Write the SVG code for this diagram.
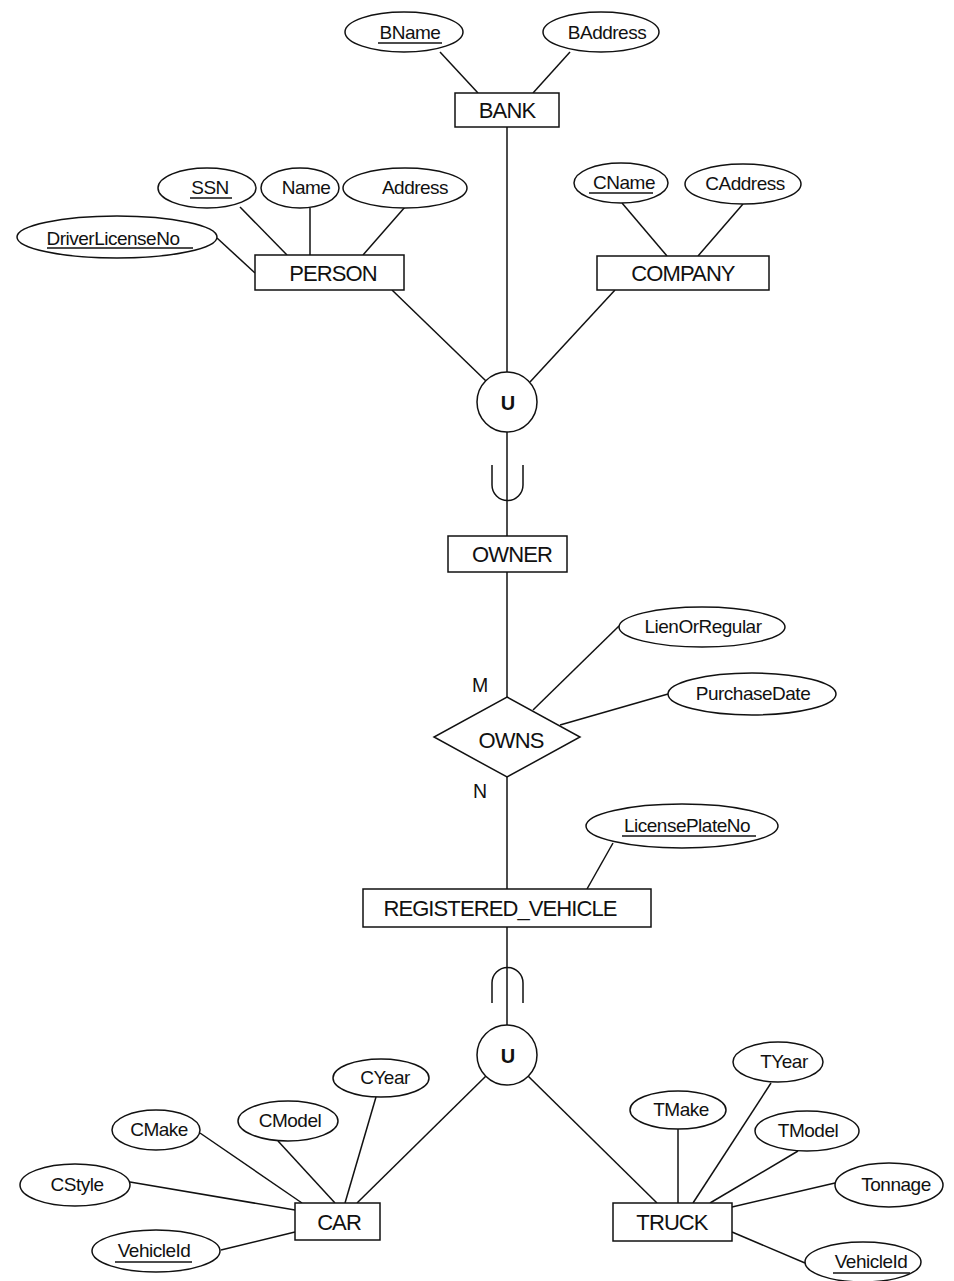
<svg xmlns="http://www.w3.org/2000/svg" width="954" height="1281" viewBox="0 0 954 1281">
  <style>
    .bg { fill: #ffffff; }
    .shape { fill: #ffffff; stroke: #111111; stroke-width: 1.5; }
    .line { fill: none; stroke: #111111; stroke-width: 1.5; }
    .ul { stroke: #111111; stroke-width: 1.3; }
    text { font-family: "Liberation Sans", Arial, Helvetica, sans-serif; fill: #111111; text-anchor: middle; }
    .attr { font-size: 19px; letter-spacing: -0.5px; }
    .ent { font-size: 22px; letter-spacing: -0.9px; }
    .card { font-size: 19.5px; }
    .union { font-size: 20px; font-weight: bold; }
  </style>
  <rect class="bg" x="0" y="0" width="954" height="1281"/>

  <!-- connectors -->
  <g id="connectors">
    <!-- BANK attributes -->
    <line class="line" x1="440" y1="52" x2="478" y2="93"/>
    <line class="line" x1="570" y1="52" x2="533" y2="93"/>
    <!-- PERSON attributes -->
    <line class="line" x1="240" y1="207" x2="287" y2="255"/>
    <line class="line" x1="310" y1="208" x2="310" y2="255"/>
    <line class="line" x1="405" y1="207" x2="363" y2="255"/>
    <line class="line" x1="217" y1="238" x2="255" y2="273"/>
    <!-- COMPANY attributes -->
    <line class="line" x1="622" y1="203" x2="667" y2="256"/>
    <line class="line" x1="743" y1="204" x2="698" y2="256"/>
    <!-- union members -->
    <line class="line" x1="507" y1="127" x2="507" y2="372"/>
    <line class="line" x1="392" y1="290" x2="486" y2="381"/>
    <line class="line" x1="615" y1="290" x2="530" y2="382"/>
    <!-- union to OWNER with subset mark -->
    <line class="line" x1="507" y1="432" x2="507" y2="536"/>
    <path class="line" d="M492,465 V485 A15.5,15.5 0 0 0 523,485 V465"/>
    <!-- OWNER - OWNS - REGISTERED_VEHICLE -->
    <line class="line" x1="507" y1="572" x2="507" y2="697"/>
    <line class="line" x1="507" y1="777" x2="507" y2="889"/>
    <line class="line" x1="533" y1="710" x2="619" y2="626"/>
    <line class="line" x1="560" y1="725" x2="668" y2="694"/>
    <line class="line" x1="613" y1="843" x2="587" y2="889"/>
    <!-- REGISTERED_VEHICLE to union with subset mark -->
    <line class="line" x1="507" y1="927" x2="507" y2="1025"/>
    <path class="line" d="M492,1003 V983 A15.5,15.5 0 0 1 523,983 V1003"/>
    <line class="line" x1="486" y1="1076" x2="357" y2="1203"/>
    <line class="line" x1="528" y1="1076" x2="657" y2="1203"/>
    <!-- CAR attributes -->
    <line class="line" x1="200" y1="1133" x2="302" y2="1203"/>
    <line class="line" x1="278" y1="1141" x2="335" y2="1203"/>
    <line class="line" x1="376" y1="1097" x2="345" y2="1203"/>
    <line class="line" x1="130" y1="1182" x2="295" y2="1210"/>
    <line class="line" x1="221" y1="1250" x2="295" y2="1232"/>
    <!-- TRUCK attributes -->
    <line class="line" x1="678" y1="1129" x2="678" y2="1203"/>
    <line class="line" x1="771" y1="1083" x2="693" y2="1203"/>
    <line class="line" x1="798" y1="1151" x2="710" y2="1203"/>
    <line class="line" x1="835" y1="1183" x2="732" y2="1207"/>
    <line class="line" x1="805" y1="1263" x2="732" y2="1232"/>
  </g>

  <!-- BANK -->
  <g id="bank">
    <rect class="shape" x="455" y="93" width="104" height="34"/>
    <text class="ent" x="507" y="118">BANK</text>
  </g>
  <g id="bname">
    <ellipse class="shape" cx="404" cy="32" rx="59" ry="20"/>
    <text class="attr" x="410" y="39">BName</text>
    <line class="ul" x1="378" y1="43" x2="442" y2="43"/>
  </g>
  <g id="baddress">
    <ellipse class="shape" cx="601" cy="32" rx="58" ry="20"/>
    <text class="attr" x="607" y="39">BAddress</text>
  </g>

  <!-- PERSON -->
  <g id="person">
    <rect class="shape" x="255" y="255" width="149" height="35"/>
    <text class="ent" x="333" y="281">PERSON</text>
  </g>
  <g id="ssn">
    <ellipse class="shape" cx="207" cy="188" rx="49" ry="20"/>
    <text class="attr" x="210" y="194">SSN</text>
    <line class="ul" x1="190" y1="198" x2="232" y2="198"/>
  </g>
  <g id="name">
    <ellipse class="shape" cx="300" cy="188" rx="39" ry="20"/>
    <text class="attr" x="306" y="194">Name</text>
  </g>
  <g id="address">
    <ellipse class="shape" cx="405" cy="188" rx="62" ry="20"/>
    <text class="attr" x="415" y="194">Address</text>
  </g>
  <g id="driverlicenseno">
    <ellipse class="shape" cx="117" cy="237" rx="100" ry="21"/>
    <text class="attr" x="113" y="245">DriverLicenseNo</text>
    <line class="ul" x1="47" y1="248" x2="193" y2="248"/>
  </g>

  <!-- COMPANY -->
  <g id="company">
    <rect class="shape" x="597" y="256" width="172" height="34"/>
    <text class="ent" x="683" y="281">COMPANY</text>
  </g>
  <g id="cname">
    <ellipse class="shape" cx="621" cy="183" rx="47" ry="20"/>
    <text class="attr" x="624" y="189">CName</text>
    <line class="ul" x1="589" y1="193" x2="653" y2="193"/>
  </g>
  <g id="caddress">
    <ellipse class="shape" cx="743" cy="184" rx="58" ry="20"/>
    <text class="attr" x="745" y="190">CAddress</text>
  </g>

  <!-- union of owners -->
  <g id="owner-union">
    <circle class="shape" cx="507" cy="402" r="30"/>
    <text class="union" x="508" y="410">U</text>
  </g>

  <!-- OWNER -->
  <g id="owner">
    <rect class="shape" x="448" y="536" width="119" height="36"/>
    <text class="ent" x="512" y="562">OWNER</text>
  </g>

  <!-- OWNS relationship -->
  <g id="owns">
    <polygon class="shape" points="507,697 580,737 507,777 434,737"/>
    <text class="ent" x="511" y="748">OWNS</text>
  </g>
  <g id="cardinalities">
    <text class="card" x="480" y="692">M</text>
    <text class="card" x="480" y="798">N</text>
  </g>
  <g id="lienorregular">
    <ellipse class="shape" cx="702" cy="627" rx="83" ry="20"/>
    <text class="attr" x="703" y="633">LienOrRegular</text>
  </g>
  <g id="purchasedate">
    <ellipse class="shape" cx="752" cy="694" rx="84" ry="21"/>
    <text class="attr" x="753" y="700">PurchaseDate</text>
  </g>

  <!-- REGISTERED_VEHICLE -->
  <g id="registered-vehicle">
    <rect class="shape" x="363" y="889" width="288" height="38"/>
    <text class="ent" x="500" y="916">REGISTERED_VEHICLE</text>
  </g>
  <g id="licenseplateno">
    <ellipse class="shape" cx="682" cy="826" rx="96" ry="22"/>
    <text class="attr" x="687" y="832">LicensePlateNo</text>
    <line class="ul" x1="622" y1="836" x2="756" y2="836"/>
  </g>

  <!-- union of vehicles -->
  <g id="vehicle-union">
    <circle class="shape" cx="507" cy="1055" r="30"/>
    <text class="union" x="508" y="1063">U</text>
  </g>

  <!-- CAR -->
  <g id="car">
    <rect class="shape" x="295" y="1203" width="85" height="37"/>
    <text class="ent" x="339" y="1230">CAR</text>
  </g>
  <g id="cmake">
    <ellipse class="shape" cx="156" cy="1130" rx="44" ry="20"/>
    <text class="attr" x="159" y="1136">CMake</text>
  </g>
  <g id="cmodel">
    <ellipse class="shape" cx="288" cy="1121" rx="50" ry="20"/>
    <text class="attr" x="290" y="1127">CModel</text>
  </g>
  <g id="cyear">
    <ellipse class="shape" cx="381" cy="1078" rx="48" ry="19"/>
    <text class="attr" x="385" y="1084">CYear</text>
  </g>
  <g id="cstyle">
    <ellipse class="shape" cx="75" cy="1185" rx="55" ry="21"/>
    <text class="attr" x="77" y="1191">CStyle</text>
  </g>
  <g id="car-vehicleid">
    <ellipse class="shape" cx="156" cy="1251" rx="64" ry="21"/>
    <text class="attr" x="154" y="1257">VehicleId</text>
    <line class="ul" x1="115" y1="1262" x2="192" y2="1262"/>
  </g>

  <!-- TRUCK -->
  <g id="truck">
    <rect class="shape" x="613" y="1203" width="119" height="38"/>
    <text class="ent" x="672" y="1230">TRUCK</text>
  </g>
  <g id="tmake">
    <ellipse class="shape" cx="678" cy="1110" rx="48" ry="19"/>
    <text class="attr" x="681" y="1116">TMake</text>
  </g>
  <g id="tyear">
    <ellipse class="shape" cx="778" cy="1062" rx="45" ry="20"/>
    <text class="attr" x="784" y="1068">TYear</text>
  </g>
  <g id="tmodel">
    <ellipse class="shape" cx="807" cy="1131" rx="52" ry="20"/>
    <text class="attr" x="808" y="1137">TModel</text>
  </g>
  <g id="tonnage">
    <ellipse class="shape" cx="889" cy="1185" rx="54" ry="22"/>
    <text class="attr" x="896" y="1191">Tonnage</text>
  </g>
  <g id="truck-vehicleid">
    <ellipse class="shape" cx="863" cy="1262" rx="58" ry="20"/>
    <text class="attr" x="871" y="1268">VehicleId</text>
    <line class="ul" x1="833" y1="1273" x2="910" y2="1273"/>
  </g>
</svg>
